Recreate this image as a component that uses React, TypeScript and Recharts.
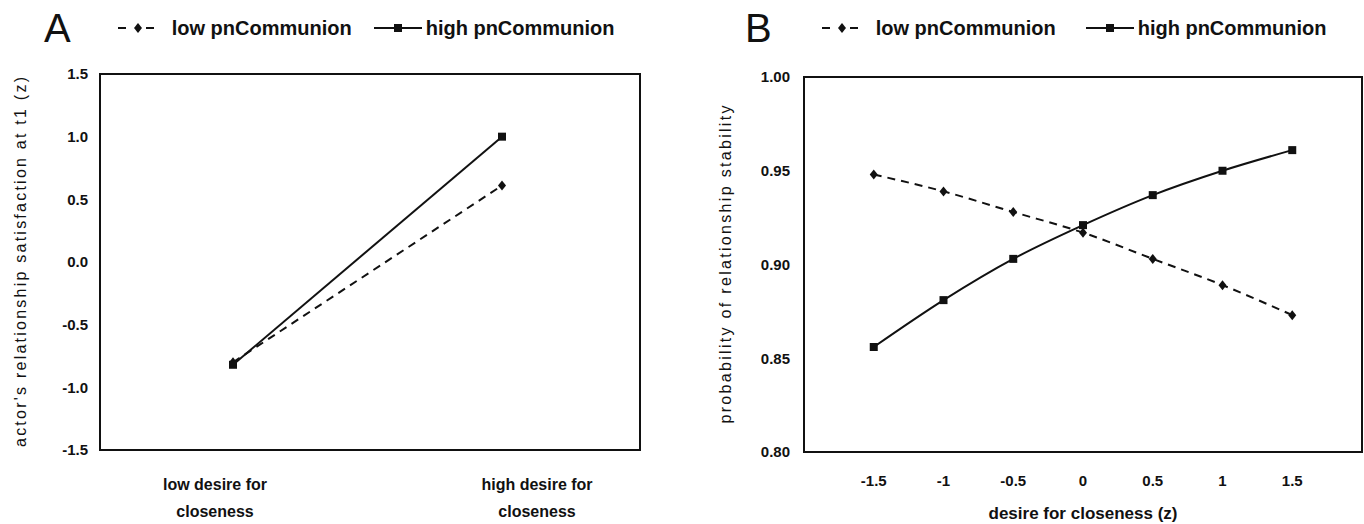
import React from "react";
import { LineChart, Line, XAxis, YAxis, CartesianGrid, ReferenceArea } from "recharts";

// Panel A: two conditions
const conditionsA = ["low desire for\ncloseness", "high desire for\ncloseness"];
const lowCommA = [-0.8, 0.61];
const highCommA = [-0.82, 1.0];
const yTicksA = [-1.5, -1, -0.5, 0, 0.5, 1, 1.5];

// Panel B: desire for closeness (z)
const desireB = [-1.5, -1, -0.5, 0, 0.5, 1, 1.5];
const lowCommB = [0.948, 0.939, 0.928, 0.917, 0.903, 0.889, 0.873];
const highCommB = [0.856, 0.881, 0.903, 0.921, 0.937, 0.95, 0.961];
const yTicksB = [0.8, 0.85, 0.9, 0.95, 1.0];

const seriesNames = ["low pnCommunion", "high pnCommunion"];

const dataA = conditionsA.map((c, i) => ({ cond: c, low: lowCommA[i], high: highCommA[i] }));
const dataB = desireB.map((d, i) => ({ desire: d, low: lowCommB[i], high: highCommB[i] }));

const NARROW = "'Liberation Sans Narrow', 'Arial Narrow', 'Liberation Sans', Arial, sans-serif";
const SANS = "'Liberation Sans', Arial, sans-serif";
const INK = "#111";
const GRID = "#bdbdbd";

const Diamond = (props: any) => {
  const { cx, cy } = props;
  if (cx == null || cy == null) return null;
  return <path d={`M${cx},${cy - 5} L${cx + 4},${cy} L${cx},${cy + 5} L${cx - 4},${cy} Z`} fill={INK} />;
};

const Square = (props: any) => {
  const { cx, cy } = props;
  if (cx == null || cy == null) return null;
  return <rect x={cx - 4} y={cy - 4} width={8} height={8} fill={INK} />;
};

const CatTick = (props: any) => {
  const { x, y, payload } = props;
  const lines = String(payload.value).split("\n");
  return (
    <text x={x} y={y} textAnchor="middle" fontFamily={NARROW} fontWeight="bold" fontSize={16} fill={INK}>
      {lines.map((l, i) => (
        <tspan key={i} x={x} dy={i === 0 ? 38 : 27}>
          {l}
        </tspan>
      ))}
    </text>
  );
};

const yLabel = (text: string, dx: number, len: number) => (props: any) => {
  const { viewBox } = props;
  const x = viewBox.x + dx;
  const y = viewBox.y + viewBox.height / 2;
  return (
    <text
      x={x}
      y={y}
      transform={`rotate(-90 ${x} ${y})`}
      textAnchor="middle"
      dominantBaseline="central"
      fontFamily={SANS}
      fontSize={16}
      fill={INK}
      textLength={len}
      lengthAdjust="spacing"
    >
      {text}
    </text>
  );
};

const PanelLegend = ({ letter, left, gap, letterGap }: { letter: string; left: number; gap: number; letterGap: number }) => (
  <div
    style={{
      position: "absolute",
      top: 8,
      left,
      display: "flex",
      alignItems: "center",
      fontFamily: NARROW,
      fontWeight: "bold",
      fontSize: 20,
      color: INK,
      whiteSpace: "nowrap",
    }}
  >
    <span style={{ fontSize: 40, fontWeight: "normal", marginRight: letterGap, lineHeight: "40px" }}>{letter}</span>
    <svg width={40} height={14} style={{ marginRight: 14 }}>
      <line x1={0} y1={7} x2={40} y2={7} stroke={INK} strokeWidth={2} strokeDasharray="8 6" />
      <rect x={14} y={1} width={12} height={12} fill="#fff" />
      <path d="M20,2 L24,7 L20,12 L16,7 Z" fill={INK} />
    </svg>
    <span style={{ marginRight: gap }}>{seriesNames[0]}</span>
    <svg width={48} height={14} style={{ marginRight: 4 }}>
      <line x1={0} y1={7} x2={48} y2={7} stroke={INK} strokeWidth={2} />
      <rect x={20} y={3} width={8} height={8} fill={INK} />
    </svg>
    <span>{seriesNames[1]}</span>
  </div>
);

const tickStyle = { fontFamily: NARROW, fontWeight: "bold" as const, fontSize: 15, fill: INK };

export default function App() {
  return (
    <div style={{ position: "absolute", left: 0, top: 0, width: 1364, height: 524, background: "#fff" }}>
      <PanelLegend letter="A" left={44} letterGap={47} gap={22} />
      <PanelLegend letter="B" left={745} letterGap={50} gap={30} />

      <div style={{ position: "absolute", left: 0, top: 0 }}>
        <LineChart width={680} height={524} data={dataA} margin={{ top: 74, right: 40, bottom: 14, left: 40 }}>
          <CartesianGrid horizontal vertical={false} stroke={GRID} strokeWidth={1.5} />
          <XAxis
            xAxisId="labels"
            dataKey="cond"
            height={60}
            padding={{ left: 115, right: 103 }}
            axisLine={false}
            tickLine={false}
            tickSize={0}
            interval={0}
            tick={<CatTick />}
          />
          <XAxis xAxisId="data" dataKey="cond" hide height={0} padding={{ left: 133, right: 138 }} />
          <XAxis xAxisId="frame" type="number" domain={[0, 1]} allowDataOverflow hide height={0} />
          <YAxis
            yAxisId="left"
            width={60}
            domain={[-1.5, 1.5]}
            ticks={yTicksA}
            tickFormatter={(v: number) => v.toFixed(1)}
            tick={tickStyle}
            tickLine={false}
            tickSize={0}
            tickMargin={12}
            axisLine={false}
            label={yLabel("actor's  relationship satisfaction at t1 (z)", -20, 370)}
          />
          <ReferenceArea
            xAxisId="frame"
            yAxisId="left"
            x1={0}
            x2={1}
            y1={-1.5}
            y2={1.5}
            fill="none"
            fillOpacity={0}
            stroke={INK}
            strokeWidth={2}
            ifOverflow="visible"
          />
          <Line
            xAxisId="data"
            yAxisId="left"
            dataKey="low"
            stroke={INK}
            strokeWidth={2}
            strokeDasharray="8 6"
            dot={<Diamond />}
            activeDot={false}
            isAnimationActive={false}
          />
          <Line
            xAxisId="data"
            yAxisId="left"
            dataKey="high"
            stroke={INK}
            strokeWidth={2}
            dot={<Square />}
            activeDot={false}
            isAnimationActive={false}
          />
        </LineChart>
      </div>

      <div style={{ position: "absolute", left: 680, top: 0 }}>
        <LineChart width={684} height={524} data={dataB} margin={{ top: 77, right: 2, bottom: 2, left: 64 }}>
          <CartesianGrid horizontal vertical={false} stroke={GRID} strokeWidth={1.5} />
          <XAxis
            xAxisId="x"
            dataKey="desire"
            type="number"
            domain={[-2, 2]}
            ticks={desireB}
            height={70}
            axisLine={false}
            tickLine={false}
            tickSize={0}
            tickMargin={23}
            tick={tickStyle}
            label={{
              value: "desire for closeness (z)",
              position: "insideBottom",
              offset: 3,
              style: { fontFamily: NARROW, fontWeight: "bold", fontSize: 17, fill: INK },
            }}
          />
          <YAxis
            yAxisId="left"
            width={60}
            domain={[0.8, 1.0]}
            ticks={yTicksB}
            tickFormatter={(v: number) => v.toFixed(2)}
            tick={tickStyle}
            tickLine={false}
            tickSize={0}
            tickMargin={14}
            axisLine={false}
            label={yLabel("probability of relationship stability", -19, 318)}
          />
          <ReferenceArea
            xAxisId="x"
            yAxisId="left"
            x1={-2}
            x2={2}
            y1={0.8}
            y2={1.0}
            fill="none"
            fillOpacity={0}
            stroke={INK}
            strokeWidth={2}
            ifOverflow="visible"
          />
          <Line
            xAxisId="x"
            yAxisId="left"
            type="monotone"
            dataKey="low"
            stroke={INK}
            strokeWidth={2}
            strokeDasharray="8 6"
            dot={<Diamond />}
            activeDot={false}
            isAnimationActive={false}
          />
          <Line
            xAxisId="x"
            yAxisId="left"
            type="monotone"
            dataKey="high"
            stroke={INK}
            strokeWidth={2}
            dot={<Square />}
            activeDot={false}
            isAnimationActive={false}
          />
        </LineChart>
      </div>
    </div>
  );
}
